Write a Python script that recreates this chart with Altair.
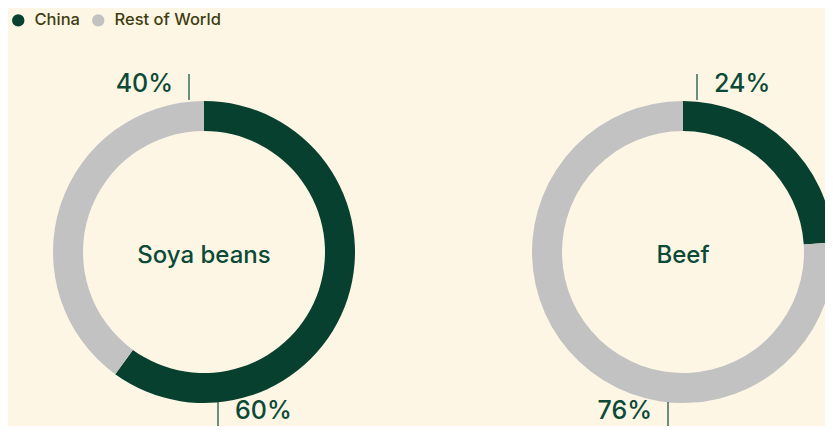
import altair as alt
import pandas as pd

# ---- data ----
items = ["Soya beans", "Beef"]
series = ["China", "Rest of World"]
china_share = [60, 24]
rest_share = [40, 76]
# where each share's label sits (layout only)
china_label_pos = ["bottom", "top"]
china_label_side = ["right", "right"]
rest_label_pos = ["top", "bottom"]
rest_label_side = ["left", "left"]

colors = ["#07402F", "#C2C2C2"]
bg = "#FDF6E5"
ink = "#0B4A36"
legend_ink = "#3F3D12"
font = "Inter"

rows = []
lab_rows = []
for i, it in enumerate(items):
    rows.append({"item": it, "series": "China", "order": 0, "value": china_share[i]})
    rows.append({"item": it, "series": "Rest of World", "order": 1, "value": rest_share[i]})
    lab_rows.append({"item": it, "label": f"{china_share[i]}%", "pos": china_label_pos[i], "side": china_label_side[i]})
    lab_rows.append({"item": it, "label": f"{rest_share[i]}%", "pos": rest_label_pos[i], "side": rest_label_side[i]})
df = pd.DataFrame(rows)
labels = pd.DataFrame(lab_rows)
centers = pd.DataFrame({"item": items})

X = alt.X("item:N", scale=alt.Scale(type="point", domain=items, range=[196, 675], padding=0), axis=None)
CY = 244

arcs = (
    alt.Chart(df)
    .transform_window(cum="sum(value)", groupby=["item"], sort=[{"field": "order"}])
    .transform_calculate(start="datum.cum - datum.value", end="datum.cum")
    .mark_arc(innerRadius=121, outerRadius=151, clip=True)
    .encode(
        x=X,
        y=alt.value(CY),
        theta=alt.Theta("start:Q", scale=alt.Scale(domain=[0, 100], range=[0, 6.283185307])),
        theta2="end:Q",
        color=alt.Color(
            "series:N",
            scale=alt.Scale(domain=series, range=colors),
            legend=alt.Legend(
                orient="none", legendX=2, legendY=4, direction="horizontal", title=None,
                symbolType="circle", symbolSize=154, symbolStrokeWidth=0,
                labelFontSize=16.5, labelFont=font, labelFontWeight=500, labelColor=legend_ink,
                labelOffset=8, columnPadding=10, padding=0,
            ),
        ),
    )
)

center_text = (
    alt.Chart(centers)
    .mark_text(fontSize=24, font=font, fontWeight=500, color=ink, baseline="alphabetic")
    .encode(x=X, y=alt.value(255), text="item:N")
)

layers = [arcs, center_text]
text_y = {"top": 84, "bottom": 411}
rule_y = {"top": (66, 92), "bottom": (394, 418)}
for pos in ["top", "bottom"]:
    for side in ["left", "right"]:
        base = alt.Chart(labels).transform_filter(
            (alt.datum.pos == pos) & (alt.datum.side == side)
        )
        layers.append(
            base.mark_text(
                fontSize=25, font=font, fontWeight=500, color=ink, baseline="alphabetic",
                align="right" if side == "left" else "left",
                dx=-31 if side == "left" else 31,
            ).encode(x=X, y=alt.value(text_y[pos]), text="label:N")
        )
        layers.append(
            base.mark_rule(color=ink, strokeWidth=1.2, xOffset=-15 if side == "left" else 14)
            .encode(x=X, y=alt.value(rule_y[pos][0]), y2=alt.value(rule_y[pos][1]))
        )

chart = (
    alt.layer(*layers)
    .properties(width=817, height=418, background=bg, padding=0,
                autosize=alt.AutoSizeParams(type="none"))
    .configure_view(stroke=None)
)

chart.save("out.html", embed_options={"renderer": "svg", "actions": False})
